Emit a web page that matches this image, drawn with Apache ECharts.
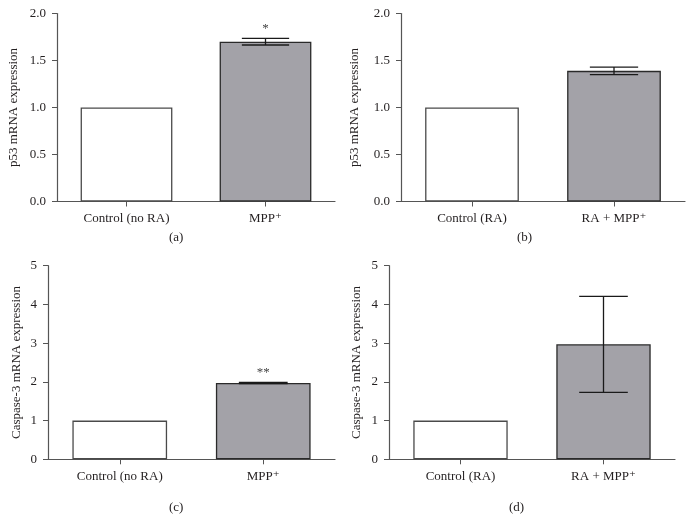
<!DOCTYPE html>
<html>
<head>
<meta charset="utf-8">
<script src="https://cdn.jsdelivr.net/npm/echarts@6/dist/echarts.min.js"></script>
<style>
html,body{margin:0;padding:0;background:#fff;}
#chart{width:688px;height:514px;}
</style>
</head>
<body>
<div id="chart"></div>
<script>
// ---- Data ----
const panelLabels = ['(a)', '(b)', '(c)', '(d)'];
const categoriesNoRA = ['Control (no RA)', 'MPP\u207A'];
const categoriesRA = ['Control (RA)', 'RA + MPP\u207A'];
const yNameP53 = 'p53 mRNA expression';
const yNameCasp = 'Caspase-3 mRNA expression';
const p53NoRA = [1.00, 1.70];
const p53NoRAErr = [0, 0.035];
const p53RA = [1.00, 1.39];
const p53RAErr = [0, 0.04];
const casp3NoRA = [1.00, 1.97];
const casp3NoRAErr = [0, 0.015];
const casp3RA = [1.00, 2.97];
const casp3RAErr = [0, 1.24];
const sigNoRAp53 = ['', '*'];
const sigRAp53 = ['', ''];
const sigNoRAcasp = ['', '**'];
const sigRAcasp = ['', ''];
const p53Ticks = { min: 0, max: 2.0, interval: 0.5 };
const caspTicks = { min: 0, max: 5, interval: 1 };

// ---- Layout ----
const FONT = '"Liberation Serif", "DejaVu Serif", serif';
const TXT = '#231f20';
const AX = '#555';
const grids = [
  { left: 57, top: 13.5, width: 278, height: 188 },
  { left: 401, top: 13.5, width: 284, height: 188 },
  { left: 48, top: 265.7, width: 287, height: 193.6 },
  { left: 389, top: 265.7, width: 286, height: 193.6 }
];
const panels = [
  { cats: categoriesNoRA, vals: p53NoRA, err: p53NoRAErr, sig: sigNoRAp53, name: yNameP53, ticks: p53Ticks, dec: 1, gap: 37 },
  { cats: categoriesRA, vals: p53RA, err: p53RAErr, sig: sigRAp53, name: yNameP53, ticks: p53Ticks, dec: 1, gap: 40 },
  { cats: categoriesNoRA, vals: casp3NoRA, err: casp3NoRAErr, sig: sigNoRAcasp, name: yNameCasp, ticks: caspTicks, dec: 0, gap: 25 },
  { cats: categoriesRA, vals: casp3RA, err: casp3RAErr, sig: sigRAcasp, name: yNameCasp, ticks: caspTicks, dec: 0, gap: 26 }
];
const labelPos = [[177, 231], [525, 231], [177, 501], [517, 501]];

const xAxis = [], yAxis = [], series = [], graphic = [];
panels.forEach((p, i) => {
  xAxis.push({
    type: 'category', gridIndex: i, data: p.cats,
    axisLine: { lineStyle: { color: AX, width: 1.2 } },
    axisTick: { show: true, alignWithLabel: true, length: 5, lineStyle: { color: AX } },
    axisLabel: { color: TXT, fontFamily: FONT, fontSize: 13, margin: 11 }
  });
  yAxis.push({
    type: 'value', gridIndex: i, min: p.ticks.min, max: p.ticks.max, interval: p.ticks.interval,
    name: p.name, nameLocation: 'middle', nameGap: p.gap, nameRotate: 90,
    nameTextStyle: { color: TXT, fontFamily: FONT, fontSize: 13 },
    splitLine: { show: false },
    axisLine: { show: true, lineStyle: { color: AX, width: 1.2 } },
    axisTick: { show: true, length: 5, lineStyle: { color: AX } },
    axisLabel: { color: TXT, fontFamily: FONT, fontSize: 13, margin: 11,
      formatter: v => v.toFixed(p.dec) }
  });
  series.push({
    type: 'bar', xAxisIndex: i, yAxisIndex: i, barWidth: '66%',
    data: p.vals.map((v, j) => ({
      value: v,
      itemStyle: j === 0
        ? { color: '#ffffff', borderColor: '#4a4a4a', borderWidth: 1.3 }
        : { color: '#a3a2a8', borderColor: '#2a2a2a', borderWidth: 1.3 }
    })),
    silent: true
  });
  series.push({
    type: 'custom', xAxisIndex: i, yAxisIndex: i, silent: true, z: 10,
    data: p.vals.map((v, j) => [j, v, p.err[j], p.sig[j]]),
    renderItem: (params, api) => {
      const x = api.value(0), v = api.value(1), e = api.value(2), s = p.sig[params.dataIndex];
      const children = [];
      const bw = api.size([1, 0])[0] * 0.34;
      const top = api.coord([x, v + e]);
      const bot = api.coord([x, v - e]);
      const st = { stroke: '#1a1a1a', lineWidth: 1.3 };
      if (e > 0) {
        children.push({ type: 'line', shape: { x1: top[0], y1: top[1], x2: bot[0], y2: bot[1] }, style: st });
        children.push({ type: 'line', shape: { x1: top[0] - bw / 2, y1: top[1], x2: top[0] + bw / 2, y2: top[1] }, style: st });
        children.push({ type: 'line', shape: { x1: bot[0] - bw / 2, y1: bot[1], x2: bot[0] + bw / 2, y2: bot[1] }, style: st });
      }
      if (s) {
        children.push({ type: 'text', x: top[0], y: top[1] - 3,
          style: { text: s, fill: '#444', font: '13px ' + FONT, textAlign: 'center', textVerticalAlign: 'bottom' } });
      }
      return { type: 'group', children };
    }
  });
  graphic.push({
    type: 'text', left: labelPos[i][0] - 8, top: labelPos[i][1],
    style: { text: panelLabels[i], fill: TXT, font: '13px ' + FONT }
  });
});

const chart = echarts.init(document.getElementById('chart'), null, { renderer: 'canvas' });
chart.setOption({
  animation: false,
  backgroundColor: '#ffffff',
  grid: grids,
  xAxis, yAxis, series, graphic
});
</script>
</body>
</html>
